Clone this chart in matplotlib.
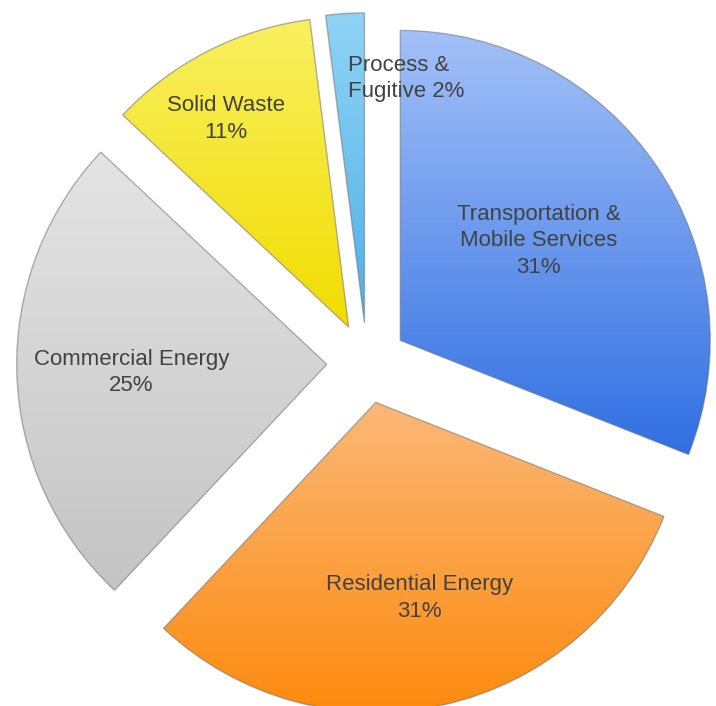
import numpy as np
import matplotlib
matplotlib.use("Agg")
import matplotlib.pyplot as plt
from matplotlib.colors import LinearSegmentedColormap

# ---------------------------------------------------------------------------
# Data
# ---------------------------------------------------------------------------
categories = ["Transportation &\nMobile Services", "Residential Energy",
              "Commercial Energy", "Solid Waste", "Process &\nFugitive"]
shares = [31, 31, 25, 11, 2]

# gradient colours (top, bottom) for each slice
top_colors = ["#a3c1f8", "#fbb878", "#e4e4e4", "#f8f060", "#8fd3f6"]
bottom_colors = ["#306fe2", "#fd8a0c", "#c4c4c4", "#f2dc00", "#4fb0e6"]

# label placement (fraction of radius from the wedge apex, angle tweak in deg)
label_r = [0.55, 0.647, 0.63, 0.78, 0.80]
label_dang = [1.5, 0.0, 0.6, 3.5, -13.3]
label_sep = ["\n", "\n", "\n", "\n", " "]
label_align = ["center", "center", "center", "center", "left"]

plt.rcParams["font.family"] = ["Liberation Sans", "DejaVu Sans"]

fig = plt.figure(figsize=(7.16, 7.06), dpi=100)
ax = fig.add_axes([0, 0, 1, 1])

R = 1.0
explode = [0.13] * len(shares)

wedges, _ = ax.pie(shares, startangle=90, counterclock=False,
                   radius=R, explode=explode,
                   wedgeprops=dict(linewidth=1.0, edgecolor="#8a8a8a"))

for i, w in enumerate(wedges):
    w.set_facecolor("none")
    w.set_edgecolor((0.45, 0.45, 0.45, 0.55))
    # gradient fill clipped to the wedge
    path = w.get_path().transformed(w.get_patch_transform())
    verts = path.vertices
    x0, x1 = verts[:, 0].min(), verts[:, 0].max()
    y0, y1 = verts[:, 1].min(), verts[:, 1].max()
    cmap = LinearSegmentedColormap.from_list(
        f"g{i}", [bottom_colors[i], top_colors[i]])
    grad = np.linspace(0, 1, 256).reshape(-1, 1)
    im = ax.imshow(grad, extent=[x0, x1, y0, y1], origin="lower",
                   cmap=cmap, aspect="auto", zorder=0.5,
                   interpolation="bilinear")
    im.set_clip_path(w)

    # label
    th = np.deg2rad(0.5 * (w.theta1 + w.theta2))
    cx, cy = w.center
    ang = th + np.deg2rad(label_dang[i])
    tx = cx + label_r[i] * R * np.cos(ang)
    ty = cy + label_r[i] * R * np.sin(ang)
    ax.text(tx, ty, f"{categories[i]}{label_sep[i]}{shares[i]}%",
            ha="center", va="center", multialignment=label_align[i],
            fontsize=16, color="#424242", linespacing=1.35, zorder=3)

ax.set_xlim(-1.184, 1.126)
ax.set_ylim(-1.106, 1.171)
ax.set_aspect("equal")
ax.axis("off")

fig.savefig("out.png", dpi=100, facecolor="white")
